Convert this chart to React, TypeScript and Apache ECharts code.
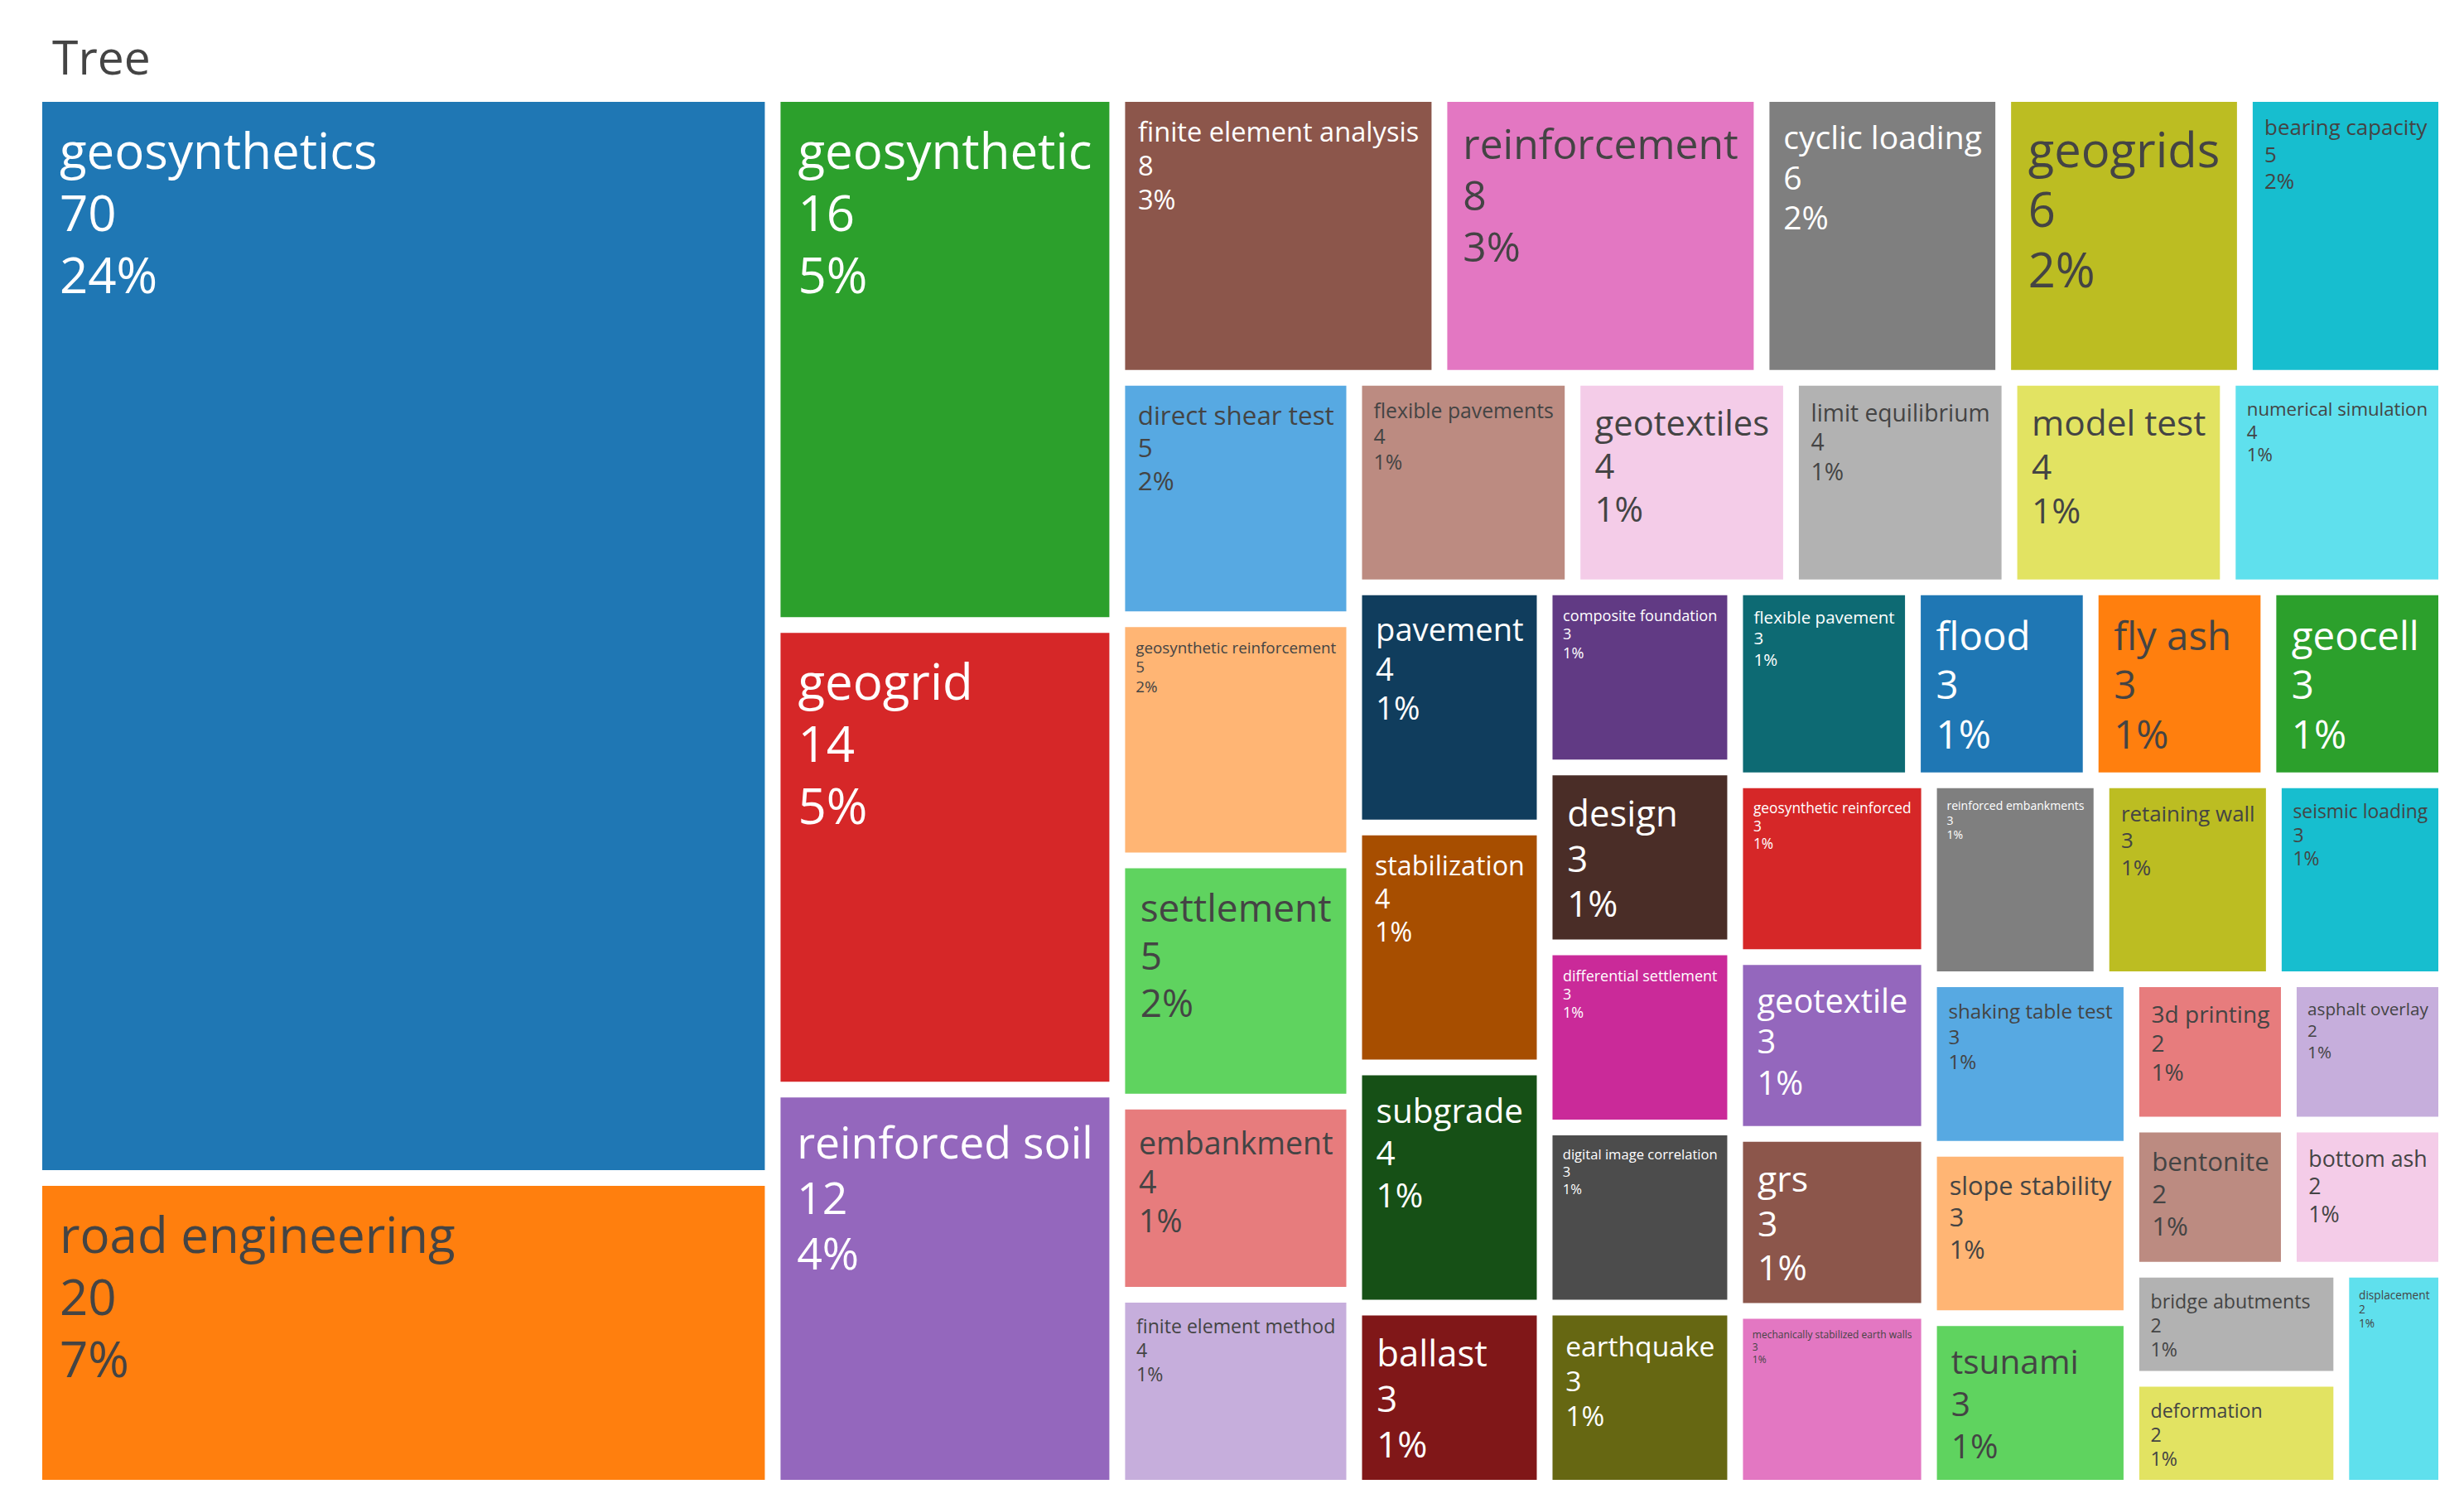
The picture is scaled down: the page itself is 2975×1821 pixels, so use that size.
import React, { useEffect, useRef } from "react";
import * as echarts from "echarts";

const rootLabel = "Tree";

const names = [
  "geosynthetics", "road engineering", "geosynthetic", "geogrid", "reinforced soil",
  "finite element analysis", "reinforcement", "cyclic loading", "geogrids", "bearing capacity",
  "direct shear test", "geosynthetic reinforcement", "settlement", "embankment", "finite element method",
  "flexible pavements", "geotextiles", "limit equilibrium", "model test", "numerical simulation",
  "pavement", "stabilization", "subgrade", "ballast", "composite foundation",
  "design", "differential settlement", "digital image correlation", "earthquake", "flexible pavement",
  "flood", "fly ash", "geocell", "geosynthetic reinforced", "geotextile",
  "grs", "mechanically stabilized earth walls", "reinforced embankments", "retaining wall", "seismic loading",
  "shaking table test", "slope stability", "tsunami", "3d printing", "asphalt overlay",
  "bentonite", "bottom ash", "bridge abutments", "deformation", "displacement",
];

const values = [
  70, 20, 16, 14, 12,
  8, 8, 6, 6, 5,
  5, 5, 5, 4, 4,
  4, 4, 4, 4, 4,
  4, 4, 4, 3, 3,
  3, 3, 3, 3, 3,
  3, 3, 3, 3, 3,
  3, 3, 3, 3, 3,
  3, 3, 3, 2, 2,
  2, 2, 2, 2, 2,
];

const colorway = [
  "#1f77b4", "#ff7f0e", "#2ca02c", "#d62728", "#9467bd",
  "#8c564b", "#e377c2", "#7f7f7f", "#bcbd22", "#17becf",
];

function hexToRgb(hex: string): number[] {
  const h = hex.replace("#", "");
  return [0, 2, 4].map((i) => parseInt(h.slice(i, i + 2), 16));
}
function rgbToHex(rgb: number[]): string {
  return "#" + rgb.map((v) => Math.round(Math.max(0, Math.min(255, v))).toString(16).padStart(2, "0")).join("");
}
function rgbToHsl([r, g, b]: number[]): number[] {
  r /= 255; g /= 255; b /= 255;
  const max = Math.max(r, g, b), min = Math.min(r, g, b);
  let h = 0, s = 0;
  const l = (max + min) / 2;
  if (max !== min) {
    const d = max - min;
    s = l > 0.5 ? d / (2 - max - min) : d / (max + min);
    if (max === r) h = (g - b) / d + (g < b ? 6 : 0);
    else if (max === g) h = (b - r) / d + 2;
    else h = (r - g) / d + 4;
    h /= 6;
  }
  return [h, s, l];
}
function hslToRgb([h, s, l]: number[]): number[] {
  if (s === 0) return [l * 255, l * 255, l * 255];
  const hue2rgb = (p: number, q: number, t: number) => {
    if (t < 0) t += 1;
    if (t > 1) t -= 1;
    if (t < 1 / 6) return p + (q - p) * 6 * t;
    if (t < 1 / 2) return q;
    if (t < 2 / 3) return p + (q - p) * (2 / 3 - t) * 6;
    return p;
  };
  const q = l < 0.5 ? l * (1 + s) : l + s - l * s;
  const p = 2 * l - q;
  return [hue2rgb(p, q, h + 1 / 3) * 255, hue2rgb(p, q, h) * 255, hue2rgb(p, q, h - 1 / 3) * 255];
}
function shiftLightness(hex: string, amt: number): string {
  const hsl = rgbToHsl(hexToRgb(hex));
  hsl[2] = Math.max(0, Math.min(1, hsl[2] + amt / 100));
  return rgbToHex(hslToRgb(hsl));
}
function isDark(hex: string): boolean {
  const [r, g, b] = hexToRgb(hex);
  return (r * 299 + g * 587 + b * 114) / 1000 < 128;
}

const extendedColors = [
  ...colorway,
  ...colorway.map((c) => shiftLightness(c, 20)),
  ...colorway.map((c) => shiftLightness(c, -20)),
];

const total = values.reduce((a, b) => a + b, 0);

const MAX_FONT = 60;
const LINE = 1.25;
const FONT_FAMILY = '"Open Sans", "DejaVu Sans", sans-serif';

const AREA = { left: 51, top: 123, width: 2893, height: 1664 };

let measureCtx: CanvasRenderingContext2D | null = null;
function measure(text: string, size: number): number {
  if (!measureCtx) measureCtx = document.createElement("canvas").getContext("2d");
  measureCtx!.font = `${size}px ${FONT_FAMILY}`;
  return measureCtx!.measureText(text).width;
}

function labelLines(i: number): string[] {
  return [names[i], String(values[i]), Math.round((values[i] / total) * 100) + "%"];
}

function buildOption(sizes: Record<string, { w: number; h: number }> | null) {
  const data = names.map((name, i) => {
    const color = extendedColors[i % extendedColors.length];
    let fontSize = MAX_FONT * 0.5;
    if (sizes && sizes[name]) {
      const { w, h } = sizes[name];
      const lines = labelLines(i);
      const bw = Math.max(...lines.map((t) => measure(t, MAX_FONT)));
      const bh = lines.length * MAX_FONT * LINE;
      const padX0 = 9 + 0.2 * MAX_FONT;
      const scale = Math.min(1, (w - 2 * padX0) / bw, (h - 2 * padX0) / bh);
      fontSize = Math.max(3, MAX_FONT * scale);
      const padX = 9 + 0.2 * fontSize;
      const scale2 = Math.min(1, (w - 2 * padX) / bw, (h - 2 * padX) / bh);
      fontSize = Math.max(3, MAX_FONT * scale2);
    }
    const pad = 9 + 0.2 * fontSize;
    return {
      name,
      value: values[i],
      itemStyle: { color },
      label: {
        fontSize,
        lineHeight: fontSize * LINE,
        color: isDark(color) ? "#ffffff" : "#444444",
        padding: [pad * 0.7 + 3 + fontSize * 0.05, pad, 0, pad],
      },
    };
  });

  return {
    animation: false,
    title: {
      text: rootLabel,
      left: 58,
      top: 34,
      textStyle: { fontSize: 57, fontWeight: "normal", color: "#444444", fontFamily: FONT_FAMILY },
    },
    series: [
      {
        type: "treemap",
        left: AREA.left,
        top: AREA.top,
        width: AREA.width,
        height: AREA.height,
        roam: false,
        nodeClick: false,
        breadcrumb: { show: false },
        visibleMin: 0,
        sort: false,
        squareRatio: 1,
        label: {
          show: true,
          position: "insideTopLeft",
          overflow: "none",
          fontFamily: FONT_FAMILY,
          formatter: (p: any) => {
            const i = names.indexOf(p.name);
            return labelLines(i).join("\n");
          },
        },
        upperLabel: { show: false },
        levels: [
          { itemStyle: { borderWidth: 0, gapWidth: 19, borderColor: "#ffffff" } },
          { itemStyle: { borderWidth: 0, gapWidth: 0 } },
        ],
        data,
      },
    ],
  };
}

export default function App() {
  const ref = useRef<HTMLDivElement>(null);
  useEffect(() => {
    document.body.style.margin = "0";
    if (!ref.current) return;
    const chart = echarts.init(ref.current, null, { renderer: "svg" });
    chart.setOption(buildOption(null) as any);
    try {
      const series = (chart as any).getModel().getSeriesByIndex(0);
      const tree = series.getData().tree;
      const sizes: Record<string, { w: number; h: number }> = {};
      tree.root.children.forEach((node: any) => {
        const l = node.getLayout();
        if (l) sizes[node.name] = { w: l.width, h: l.height };
      });
      chart.setOption(buildOption(sizes) as any);
    } catch (e) {
      // keep default sizes
    }
    return () => chart.dispose();
  }, []);
  return <div ref={ref} style={{ width: 2975, height: 1821, background: "#ffffff" }} />;
}
